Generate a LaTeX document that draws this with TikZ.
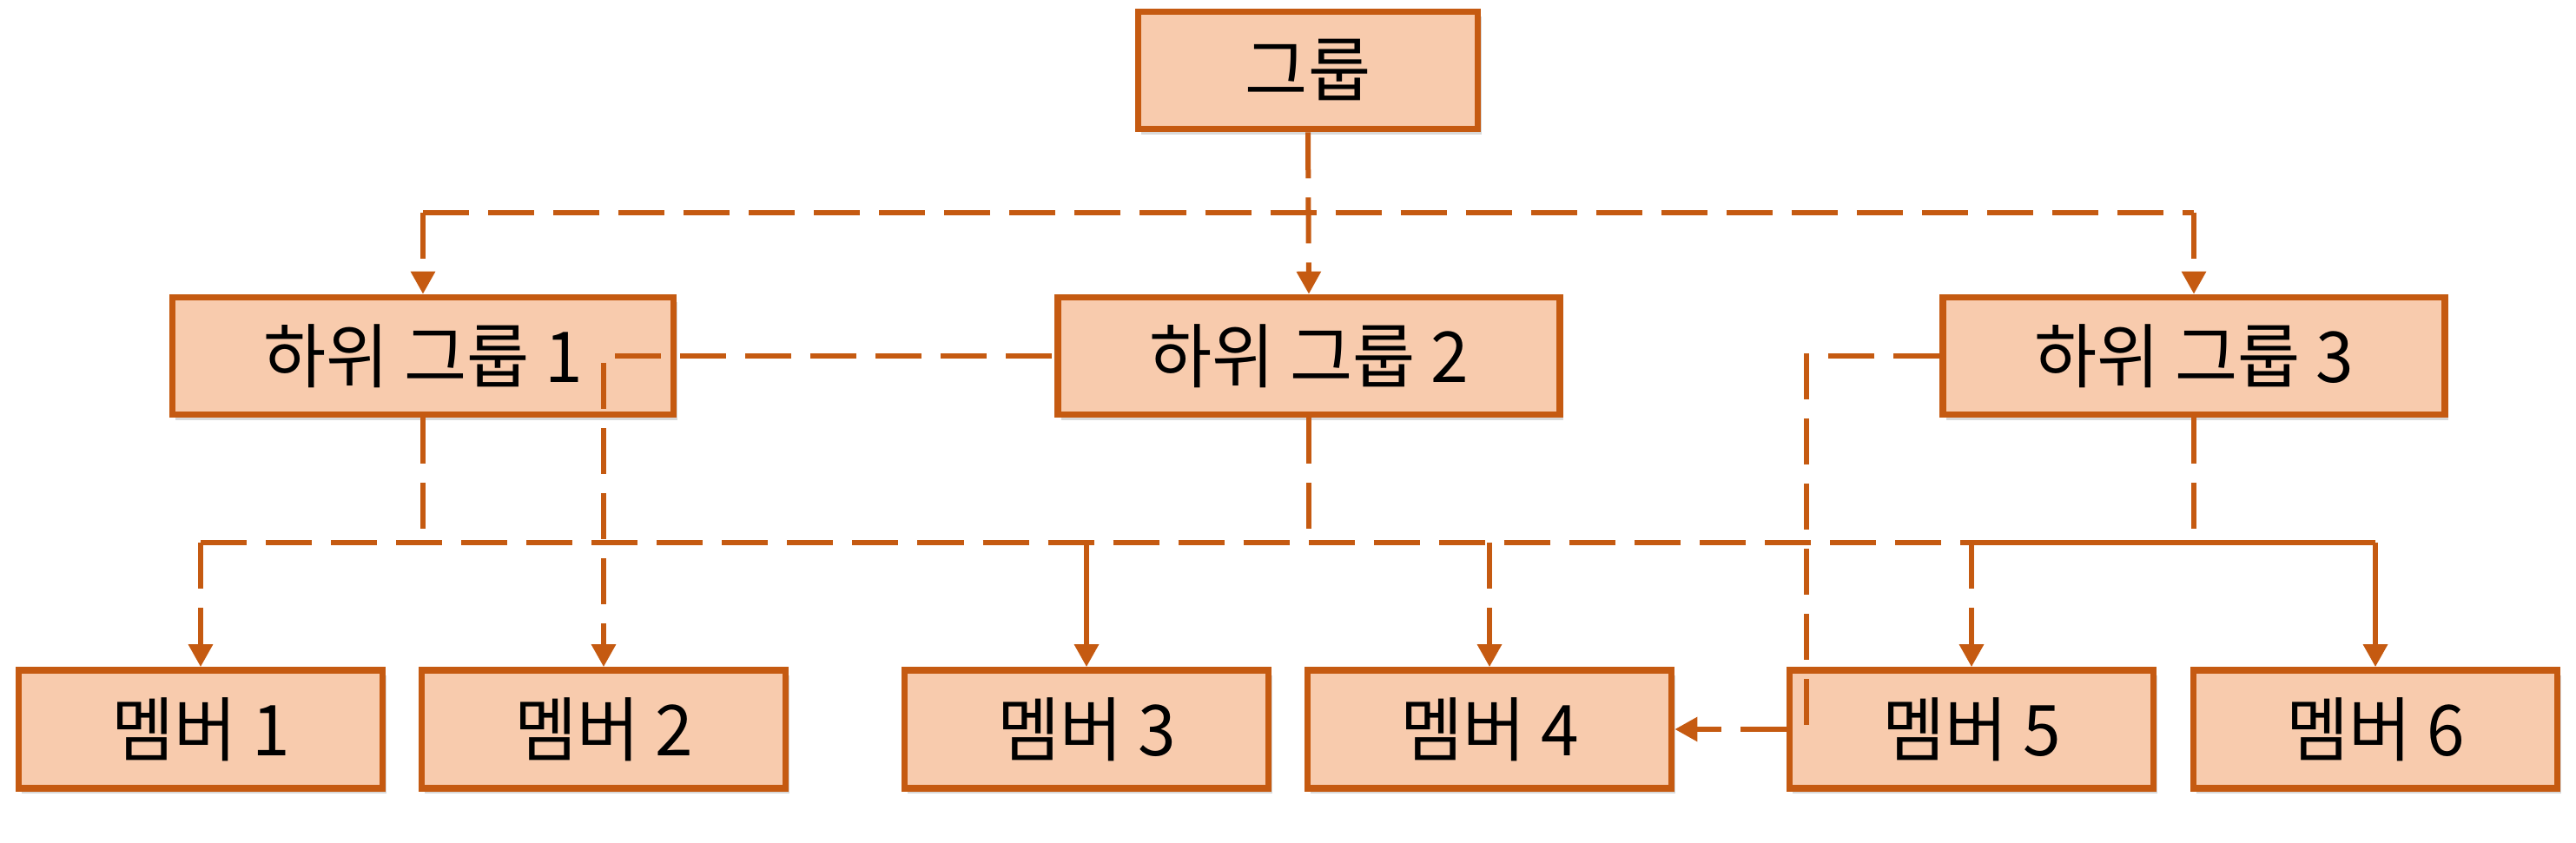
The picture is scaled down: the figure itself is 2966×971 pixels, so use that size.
\documentclass[tikz,border=0pt]{standalone}
\usepackage{fontspec}
\newfontfamily\kr{Noto Sans CJK KR}
\usetikzlibrary{arrows.meta,shadows}
\definecolor{bx}{HTML}{F8CBAD}
\definecolor{ln}{HTML}{C55A11}
\newcommand{\lbl}[1]{\scalebox{0.97}[1]{#1}}
\tikzset{
 box/.style={draw=ln,fill=bx,line width=0.075cm,inner sep=0pt,
   minimum height=1.35cm,font=\kr\fontsize{23}{23}\selectfont,
   drop shadow={shadow xshift=0.04cm,shadow yshift=-0.06cm,opacity=0.3,fill=gray}},
 conn/.style={draw=ln,line width=0.06cm},
 dsh/.style={conn,dash pattern=on 0.53cm off 0.22cm},
 tip/.style={-{Triangle[length=0.26cm,width=0.27cm]}}
}
\begin{document}
\begin{tikzpicture}[x=0.01cm,y=-0.01cm]
\useasboundingbox (0,0) rectangle (2966,971);
\node[box,minimum width=3.91cm] (g) at (1506,81) {\lbl{그룹}};
\node[box,minimum width=5.77cm] (s1) at (487,410) {\lbl{하위 그룹 1}};
\node[box,minimum width=5.78cm] (s2) at (1507,410) {\lbl{하위 그룹 2}};
\node[box,minimum width=5.78cm] (s3) at (2526,410) {\lbl{하위 그룹 3}};
\foreach \n/\x in {1/231,2/695,3/1251,4/1715,5/2270,6/2735}
  \node[box,minimum width=4.19cm,minimum height=1.36cm] (m\n) at (\x,840) {\lbl{멤버 \n}};
% top level
\coordinate (t1) at (487,245); \coordinate (t3) at (2526,245);
\draw[dsh] (t1) -- (t3);
\draw[dsh,tip] (t1) -- (s1.north);
\draw[dsh,tip] (t3) -- (s3.north);
\draw[dsh,tip] (g.south) -- (s2.north);
% sub1 to sub2 link
\coordinate (a1) at (708,410);
\draw[dsh] (a1) -- (s2.west);
\coordinate (a2) at (695,418);
\draw[dsh,tip] (a2) -- (m2.north);
% bottom bus
\coordinate (b1) at (231,625); \coordinate (b5) at (2270,625); \coordinate (b6) at (2735,625);
\coordinate (b3) at (1251,625); \coordinate (b4) at (1715,625);
\draw[dsh] (b1) -- (b5);
\draw[conn] (b5) -- (b6);
\draw[dsh] (s1.south) -- (487,625);
\draw[dsh] (s2.south) -- (1507,625);
\draw[dsh] (s3.south) -- (2526,625);
\draw[dsh,tip] (b1) -- (m1.north);
\draw[conn,tip] (b3) -- (m3.north);
\draw[dsh,tip] (b4) -- (m4.north);
\draw[dsh,tip] (b5) -- (m5.north);
\draw[conn,tip] (b6) -- (m6.north);
% sub3 to member 5/4
\coordinate (c1) at (2080,410); \coordinate (c2) at (2080,836);
\draw[dsh] (s3.west) -- (c1) -- (c2);
\draw[dsh,tip] (m5.west) -- (m4.east);
\end{tikzpicture}
\end{document}
